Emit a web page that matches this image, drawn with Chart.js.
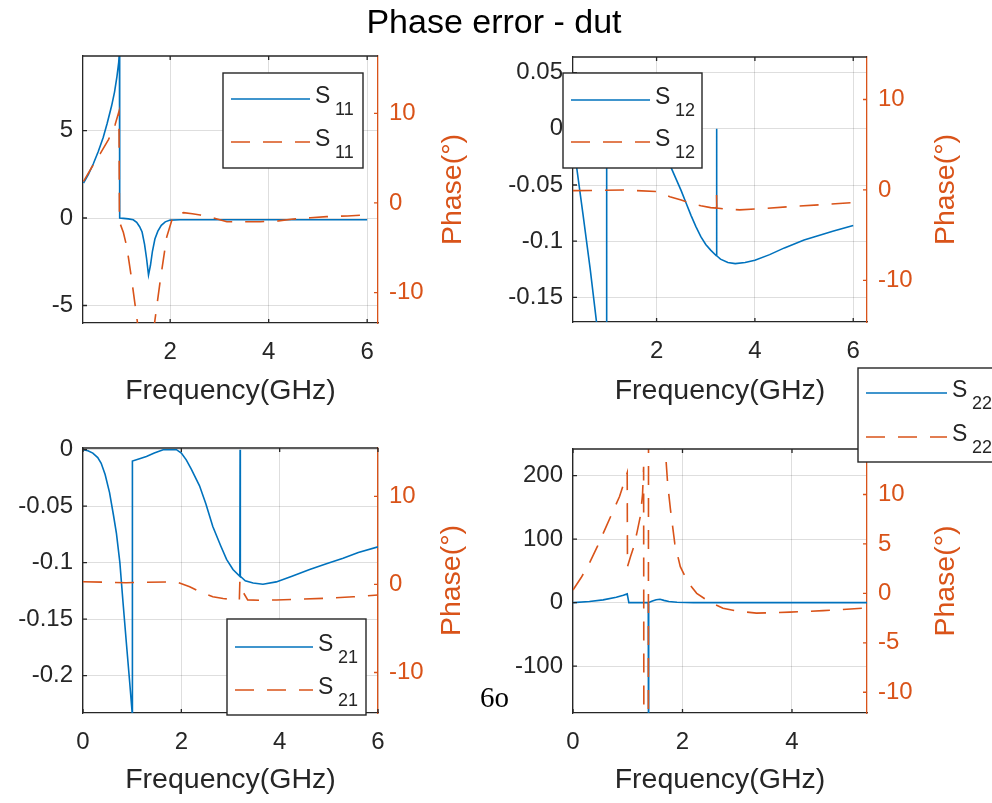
<!DOCTYPE html>
<html>
<head>
<meta charset="utf-8">
<title>Phase error - dut</title>
<script src="https://cdn.jsdelivr.net/npm/chart.js@4.4.0/dist/chart.umd.min.js"></script>
<style>
  html, body { margin: 0; padding: 0; background: #fff; }
  #wrap { position: relative; width: 992px; height: 803px; overflow: hidden; }
  #wrap canvas { position: absolute; left: 0; top: 0; }
</style>
</head>
<body>
<div id="wrap">
  <canvas id="s11" width="992" height="803"></canvas>
  <canvas id="s12" width="992" height="803"></canvas>
  <canvas id="s21" width="992" height="803"></canvas>
  <canvas id="s22" width="992" height="803"></canvas>
</div>
<script>
// colores estilo matlab
const BLUE = '#0072BD';
const ORANGE = '#D95319';
const INK = '#262626';
const GRID = 'rgba(0,0,0,0.13)';
const FONT = "'Liberation Sans', Arial, sans-serif";

// Textos
const titleText = 'Phase error - dut';
const xLabel = 'Frequency(GHz)';
const yRightLabel = 'Phase(°)';
const strayText = '6o';

// S11
const s11Freq = [0.24, 0.34, 0.44, 0.54, 0.64, 0.72, 0.81, 0.87, 0.92, 0.955, 0.97, 0.975, 1.05, 1.15, 1.25, 1.32, 1.38, 1.43, 1.48, 1.52, 1.56, 1.6, 1.64, 1.69, 1.75, 1.82, 1.9, 2.0, 2.2, 2.6, 3.0, 3.5, 4.0, 4.5, 5.0, 5.5, 6.0];
const s11Mag = [2.0, 2.5, 3.1, 3.8, 4.6, 5.4, 6.4, 7.2, 8.1, 8.9, 9.5, 0, -0.02, -0.05, -0.1, -0.25, -0.5, -0.8, -1.5, -2.3, -3.25, -2.7, -1.9, -1.2, -0.75, -0.42, -0.22, -0.12, -0.1, -0.1, -0.1, -0.1, -0.1, -0.1, -0.1, -0.1, -0.1];
const s11PhaseFreq = [0.24, 0.4, 0.58, 0.75, 0.88, 0.96, 0.97, 1.05, 1.12, 1.22, 1.32, 1.4, 1.5, 1.6, 1.69, 1.8, 1.93, 2.03, 2.1, 2.27, 2.45, 2.61, 2.9, 3.15, 3.5, 3.83, 4.2, 4.5, 4.85, 5.18, 5.6, 5.99];
const s11Phase = [2.4, 3.9, 5.5, 7.1, 8.7, 10.2, -2.1, -3.3, -4.9, -8.6, -12.7, -16, -19, -17, -13.1, -8.6, -3.8, -2.0, -1.34, -1.08, -1.2, -1.34, -1.7, -2.1, -2.1, -2.1, -2.0, -1.8, -1.65, -1.53, -1.45, -1.34];

// S12
const s12Freq = [0.30, 0.38, 0.5, 0.65, 0.8, 0.9, 0.98, 0.985, 1.1, 1.3, 1.5, 1.7, 1.9, 2.0, 2.1, 2.2, 2.3, 2.4, 2.5, 2.6, 2.7, 2.8, 2.9, 3.0, 3.1, 3.215, 3.22, 3.225, 3.3, 3.45, 3.6, 3.8, 4.0, 4.3, 4.6, 5.0, 5.3, 5.6, 6.0];
const s12Mag = [-0.01, -0.036, -0.075, -0.125, -0.18, -0.21, -0.23, -0.012, -0.009, -0.005, -0.002, 0, 0, -0.004, -0.012, -0.022, -0.035, -0.045, -0.055, -0.066, -0.077, -0.087, -0.096, -0.103, -0.108, -0.113, 0, -0.113, -0.116, -0.119, -0.12, -0.119, -0.117, -0.112, -0.106, -0.099, -0.095, -0.091, -0.086];
const s12PhaseFreq = [0.3, 0.8, 1.32, 2.0, 2.27, 2.5, 2.68, 2.9, 3.1, 3.215, 3.22, 3.225, 3.4, 3.69, 4.2, 4.71, 5.3, 6.0];
const s12Phase = [-0.07, -0.05, 0, -0.18, -0.74, -1.1, -1.47, -1.75, -1.95, -2.0, -0.5, -2.0, -2.1, -2.2, -2.05, -1.84, -1.65, -1.4];

// S21
const s21Freq = [0, 0.1, 0.2, 0.3, 0.37, 0.45, 0.54, 0.62, 0.68, 0.75, 0.81, 0.88, 0.95, 1.0, 1.005, 1.15, 1.29, 1.45, 1.63, 1.78, 1.9, 2.0, 2.1, 2.2, 2.37, 2.5, 2.64, 2.8, 2.92, 3.05, 3.19, 3.195, 3.2, 3.3, 3.46, 3.66, 3.93, 4.25, 4.61, 4.95, 5.29, 5.6, 6.0];
const s21Mag = [0, -0.001, -0.003, -0.007, -0.012, -0.022, -0.038, -0.058, -0.074, -0.1, -0.133, -0.17, -0.206, -0.233, -0.01, -0.008, -0.006, -0.003, 0, 0, 0, -0.003, -0.009, -0.017, -0.032, -0.048, -0.068, -0.085, -0.097, -0.106, -0.112, 0, -0.112, -0.116, -0.118, -0.119, -0.117, -0.112, -0.106, -0.101, -0.096, -0.091, -0.086];
const s21PhaseFreq = [0, 0.5, 0.88, 1.3, 1.9, 2.17, 2.4, 2.64, 2.85, 3.05, 3.18, 3.19, 3.195, 3.27, 3.35, 3.6, 3.93, 4.5, 4.95, 5.5, 6.0];
const s21Phase = [0.3, 0.25, 0.2, 0.25, 0.3, -0.27, -0.9, -1.4, -1.6, -1.7, -1.75, 0.3, -0.9, -1.0, -1.75, -1.8, -1.76, -1.65, -1.57, -1.4, -1.2];

// S22
const s22Freq = [0, 0.3, 0.55, 0.79, 0.92, 0.99, 1.02, 1.2, 1.375, 1.38, 1.385, 1.45, 1.52, 1.59, 1.66, 1.75, 1.9, 2.2, 3.0, 4.0, 5.0, 5.37];
const s22Mag = [0, 1.6, 4.3, 8.4, 11.5, 13.7, 0, 0, 0, -400, 0, 2.5, 4.5, 5.3, 3.5, 1.6, 0.5, 0, 0, 0, 0, 0];
const s22PhaseFreq = [0, 0.15, 0.3, 0.45, 0.61, 0.73, 0.85, 0.92, 0.99, 0.995, 1.05, 1.11, 1.17, 1.23, 1.27, 1.29, 1.295, 1.375, 1.38, 1.62, 1.69, 1.73, 1.78, 1.86, 1.96, 2.1, 2.26, 2.5, 2.74, 3.0, 3.35, 3.96, 4.57, 5.3, 5.37];
const s22Phase = [0.34, 1.6, 3.05, 4.8, 6.8, 8.3, 9.8, 11.0, 12.2, 2.7, 3.7, 4.7, 6.2, 7.8, 10.0, 12.8, -20, -20, 20, 18, 14.2, 11, 8.5, 5.0, 2.7, 1.1, 0, -0.9, -1.5, -1.8, -2.0, -1.9, -1.75, -1.5, -1.5];

// Ticks
const xTicksTop = [2, 4, 6];
const xTicksS21 = [0, 2, 4, 6];
const xTicksS22 = [0, 2, 4];
const s11Ticks = [-5, 0, 5];
const s12Ticks = [-0.15, -0.1, -0.05, 0, 0.05];
const s21Ticks = [-0.2, -0.15, -0.1, -0.05, 0];
const s22Ticks = [-100, 0, 100, 200];
const phaseTicks = [-10, 0, 10];
const s22PhaseTicks = [-10, -5, 0, 5, 10];

function pts(xs, ys) {
  return xs.map((x, i) => ({ x: x, y: ys[i] }));
}

// geometria de cada subplot (area del grafico en px de la pagina)
const panels = [
  { id: 's11', sub: '11', area: [83, 56, 378, 323], x: [0.23, 6.22], yl: [-6.0, 9.26], yr: [-13.4, 16.4],
    xTicks: xTicksTop, ylTicks: s11Ticks, yrTicks: phaseTicks,
    mag: pts(s11Freq, s11Mag), phase: pts(s11PhaseFreq, s11Phase),
    legend: { box: [223, 73, 140, 95], line: [231, 310], rows: [99, 142] }, titleY: 391, phaseX: 453 },
  { id: 's12', sub: '12', area: [573, 57, 867, 322], x: [0.30, 6.28], yl: [-0.172, 0.064], yr: [-14.6, 14.7],
    xTicks: xTicksTop, ylTicks: s12Ticks, yrTicks: phaseTicks,
    mag: pts(s12Freq, s12Mag), phase: pts(s12PhaseFreq, s12Phase),
    legend: { box: [563, 73, 139, 95], line: [571, 650], rows: [100, 142] }, titleY: 391, phaseX: 946 },
  { id: 's21', sub: '21', area: [83, 448, 378, 713], x: [0, 6], yl: [-0.233, 0.0015], yr: [-14.6, 15.5],
    xTicks: xTicksS21, ylTicks: s21Ticks, yrTicks: phaseTicks,
    mag: pts(s21Freq, s21Mag), phase: pts(s21PhaseFreq, s21Phase),
    legend: { box: [227, 619, 139, 96], line: [235, 313], rows: [647, 690] }, titleY: 780, phaseX: 452 },
  { id: 's22', sub: '22', area: [573, 449, 867, 713], x: [0, 5.37], yl: [-174, 242], yr: [-12.1, 14.6],
    xTicks: xTicksS22, ylTicks: s22Ticks, yrTicks: s22PhaseTicks,
    mag: pts(s22Freq, s22Mag), phase: pts(s22PhaseFreq, s22Phase),
    legend: { box: [858, 368, 150, 94], line: [866, 947], rows: [393, 437] }, titleY: 780, phaseX: 946 }
];

const TICK_SIZE = 24;
const LABEL_SIZE = 28.5;
const YLW = 70;
const YRW = 60;
const DASH = [19, 13];

function zeroPad(s) {
  s.paddingLeft = 0; s.paddingRight = 0; s.paddingTop = 0; s.paddingBottom = 0;
}

function setTicks(values) {
  return function (s) { s.ticks = values.map(v => ({ value: v })); };
}

// ejes tipo matlab: borde superior, ticks hacia dentro, etiqueta derecha y leyenda
const matlabPlugin = {
  id: 'matlabAxes',
  afterDraw(chart, args, opts) {
    const p = opts.panel;
    const ctx = chart.ctx;
    const a = chart.chartArea;
    const xs = chart.scales.x, yl = chart.scales.yl, yr = chart.scales.yr;
    ctx.save();
    ctx.lineWidth = 1.3;
    ctx.strokeStyle = INK;
    ctx.beginPath();
    ctx.moveTo(a.left, a.top);
    ctx.lineTo(a.right, a.top);
    p.xTicks.forEach(v => {
      const px = xs.getPixelForValue(v);
      ctx.moveTo(px, a.bottom); ctx.lineTo(px, a.bottom - 4);
      ctx.moveTo(px, a.top); ctx.lineTo(px, a.top + 4);
    });
    p.ylTicks.forEach(v => {
      const py = yl.getPixelForValue(v);
      ctx.moveTo(a.left, py); ctx.lineTo(a.left + 4, py);
    });
    ctx.stroke();
    ctx.strokeStyle = ORANGE;
    ctx.beginPath();
    p.yrTicks.forEach(v => {
      const py = yr.getPixelForValue(v);
      ctx.moveTo(a.right, py); ctx.lineTo(a.right - 4, py);
    });
    ctx.stroke();

    // etiqueta del eje derecho (de abajo hacia arriba)
    ctx.translate(p.phaseX, (a.top + a.bottom) / 2);
    ctx.rotate(-Math.PI / 2);
    ctx.fillStyle = ORANGE;
    ctx.font = LABEL_SIZE + 'px ' + FONT;
    ctx.textAlign = 'center';
    ctx.textBaseline = 'middle';
    ctx.fillText(yRightLabel, 0, 0);
    ctx.restore();

    // leyenda
    const lg = p.legend;
    ctx.save();
    ctx.fillStyle = '#fff';
    ctx.fillRect(lg.box[0], lg.box[1], lg.box[2], lg.box[3]);
    ctx.strokeStyle = INK;
    ctx.lineWidth = 1.4;
    ctx.strokeRect(lg.box[0], lg.box[1], lg.box[2], lg.box[3]);
    [BLUE, ORANGE].forEach((c, i) => {
      const y = lg.rows[i];
      ctx.strokeStyle = c;
      ctx.lineWidth = 1.6;
      ctx.setLineDash(i === 1 ? DASH : []);
      ctx.beginPath();
      ctx.moveTo(lg.line[0], y);
      ctx.lineTo(lg.line[1], y);
      ctx.stroke();
      ctx.setLineDash([]);
      ctx.fillStyle = INK;
      ctx.textAlign = 'left';
      ctx.textBaseline = 'alphabetic';
      ctx.font = '23px ' + FONT;
      ctx.fillText('S', lg.line[1] + 5, y + 4);
      ctx.font = '18px ' + FONT;
      ctx.fillText(p.sub, lg.line[1] + 25, y + 15.5);
    });
    ctx.restore();

    // textos sueltos de la figura
    if (opts.pageText) {
      ctx.save();
      ctx.fillStyle = '#000';
      ctx.textAlign = 'center';
      ctx.textBaseline = 'alphabetic';
      ctx.font = '34px ' + FONT;
      ctx.fillText(titleText, 494, 33);
      ctx.textAlign = 'left';
      ctx.font = "29px 'Liberation Serif', 'DejaVu Serif', serif";
      ctx.fillText(strayText, 480, 707);
      ctx.restore();
    }
  }
};

Chart.defaults.font.family = FONT;

panels.forEach((p, idx) => {
  const ctx = document.getElementById(p.id).getContext('2d');
  const lh = LABEL_SIZE * 1.2;
  const xh = p.titleY + lh / 2 - p.area[3];
  const tickFont = { size: TICK_SIZE };

  new Chart(ctx, {
    type: 'line',
    data: {
      datasets: [{
        label: 'S' + p.sub,
        data: p.mag,
        yAxisID: 'yl',
        borderColor: BLUE,
        borderWidth: 1.6,
        pointRadius: 0,
        tension: 0,
        fill: false,
        order: 2
      }, {
        label: 'S' + p.sub,
        data: p.phase,
        yAxisID: 'yr',
        borderColor: ORANGE,
        borderWidth: 1.6,
        borderDash: DASH,
        pointRadius: 0,
        tension: 0,
        fill: false,
        order: 1
      }]
    },
    options: {
      responsive: false,
      animation: false,
      events: [],
      layout: {
        padding: {
          left: p.area[0] - YLW,
          top: p.area[1],
          right: 992 - p.area[2] - YRW,
          bottom: 803 - p.area[3] - xh
        }
      },
      plugins: {
        legend: { display: false },
        tooltip: { enabled: false },
        matlabAxes: { panel: p, pageText: idx === 0 }
      },
      scales: {
        x: {
          type: 'linear',
          position: 'bottom',
          min: p.x[0],
          max: p.x[1],
          afterBuildTicks: setTicks(p.xTicks),
          afterFit: s => { s.height = xh; zeroPad(s); },
          grid: { color: GRID, drawTicks: false },
          border: { color: INK, width: 1.3 },
          ticks: { autoSkip: false, maxRotation: 0, padding: 15, color: INK, font: tickFont, callback: v => String(v) },
          title: { display: true, text: xLabel, color: INK, font: { size: LABEL_SIZE }, padding: 0 }
        },
        yl: {
          type: 'linear',
          position: 'left',
          min: p.yl[0],
          max: p.yl[1],
          afterBuildTicks: setTicks(p.ylTicks),
          afterFit: s => { s.width = YLW; zeroPad(s); },
          grid: { color: GRID, drawTicks: false },
          border: { color: INK, width: 1.3 },
          ticks: { autoSkip: false, padding: 10, color: INK, font: tickFont, callback: v => String(v) }
        },
        yr: {
          type: 'linear',
          position: 'right',
          min: p.yr[0],
          max: p.yr[1],
          afterBuildTicks: setTicks(p.yrTicks),
          afterFit: s => { s.width = YRW; zeroPad(s); },
          grid: { drawOnChartArea: false, drawTicks: false },
          border: { color: ORANGE, width: 1.3 },
          ticks: { autoSkip: false, padding: 11, color: ORANGE, font: tickFont, callback: v => String(v) }
        }
      }
    },
    plugins: [matlabPlugin]
  });
});
</script>
</body>
</html>
